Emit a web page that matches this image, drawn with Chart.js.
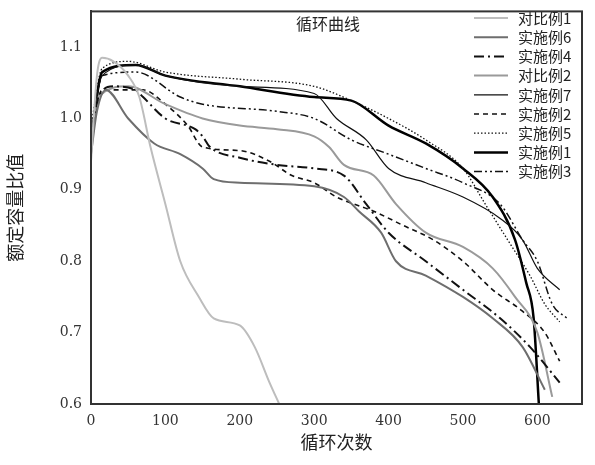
<!DOCTYPE html><html><head><meta charset="utf-8"><script src="https://cdn.jsdelivr.net/npm/chart.js@4"></script>
<style>body{margin:0;background:#fff}#w{width:595px;height:465px}</style></head><body><div id="w"><canvas id="c"></canvas></div><script>
const names=["对比例1","实施例6","实施例4","对比例2","实施例7","实施例2","实施例5","实施例1","实施例3"];
const d1=[[0,0.94],[8,1.06],[15,1.085],[30,1.08],[50,1.06],[65,1.03],[80,0.96],[100,0.88],[120,0.8],[145,0.75],[165,0.72],[200,0.71],[220,0.68],[240,0.63],[253,0.6]];
const d6=[[0,0.95],[8,1.01],[20,1.04],[50,1.0],[85,0.965],[120,0.95],[150,0.93],[165,0.915],[200,0.91],[300,0.905],[340,0.89],[360,0.87],[390,0.84],[410,0.8],[450,0.78],[500,0.75],[540,0.72],[580,0.68],[610,0.62]];
const d4=[[0,0.96],[10,1.03],[30,1.045],[60,1.04],[70,1.03],[100,1.0],[140,0.985],[150,0.975],[160,0.96],[200,0.945],[250,0.935],[300,0.93],[340,0.92],[370,0.88],[400,0.84],[450,0.8],[500,0.76],[550,0.72],[590,0.68],[630,0.63]];
const dc2=[[0,0.97],[10,1.03],[50,1.045],[100,1.02],[150,1.0],[200,0.99],[250,0.985],[300,0.975],[320,0.96],[340,0.935],[380,0.92],[410,0.88],[450,0.84],[500,0.82],[540,0.79],[570,0.75],[600,0.7],[620,0.61]];
const d7=[[0,0.98],[15,1.06],[60,1.075],[100,1.06],[200,1.045],[300,1.035],[330,1.0],[370,0.97],[400,0.93],[450,0.91],[500,0.89],[550,0.86],[580,0.83],[600,0.79],[630,0.76]];
const d2=[[0,0.97],[15,1.04],[70,1.04],[100,1.02],[130,0.99],[150,0.96],[200,0.955],[240,0.94],[270,0.92],[300,0.91],[330,0.89],[380,0.87],[420,0.85],[460,0.83],[500,0.8],[540,0.76],[580,0.73],[610,0.7],[630,0.66]];
const d5=[[0,0.99],[15,1.07],[50,1.08],[100,1.065],[200,1.055],[300,1.045],[350,1.025],[400,1.0],[450,0.97],[500,0.93],[530,0.88],[560,0.83],[590,0.78],[610,0.74],[630,0.715]];
const d1e=[[0,0.97],[15,1.065],[60,1.075],[100,1.06],[200,1.045],[300,1.03],[350,1.025],[400,0.99],[450,0.965],[500,0.93],[540,0.89],[570,0.83],[585,0.77],[595,0.72],[602,0.6]];
const d3=[[0,0.97],[15,1.06],[60,1.065],[120,1.03],[150,1.02],[250,1.01],[300,1.0],[350,0.97],[400,0.95],[450,0.93],[500,0.91],[550,0.88],[580,0.83],[600,0.8],[620,0.74],[640,0.72]];
const series=[d1,d6,d4,dc2,d7,d2,d5,d1e,d3];
const styles=[
 {c:'#bdbdbd',w:2,d:[]},{c:'#6e6e6e',w:2,d:[]},{c:'#111',w:2,d:[10,4,2,4]},{c:'#9a9a9a',w:2,d:[]},
 {c:'#111',w:1.2,d:[]},{c:'#111',w:1.6,d:[5,4]},{c:'#111',w:1.3,d:[1.5,2]},{c:'#000',w:2.5,d:[]},{c:'#111',w:1.5,d:[8,3,2,3,2,3]}];
const serif='"DejaVu Serif","Liberation Serif",serif';
const legendPlug={id:'lg',afterDraw(ch){const x=ch.ctx,a=ch.chartArea;x.save();
 x.font='16px "Noto Sans CJK SC"';x.textBaseline='middle';x.fillStyle='#222';
 x.fillText('循环曲线',a.left+205,24);
 x.font='15px "Noto Sans CJK SC"';
 names.forEach((n,i)=>{const y=18+i*19.2,s=styles[i];x.strokeStyle=s.c;x.lineWidth=s.w;x.setLineDash(s.d);
 x.beginPath();x.moveTo(474,y);x.lineTo(508,y);x.stroke();x.setLineDash([]);x.fillText(n,518,y)});
 x.restore();}};
new Chart(document.getElementById('c'),{type:'line',
 data:{datasets:series.map((s,i)=>({label:names[i],data:s.map(p=>({x:p[0],y:p[1]})),borderColor:styles[i].c,borderWidth:styles[i].w,borderDash:styles[i].d,pointRadius:0,cubicInterpolationMode:'monotone',fill:false}))},
 options:{responsive:true,maintainAspectRatio:false,animation:false,layout:{padding:{top:8,right:13,bottom:8}},
  plugins:{legend:{display:false},tooltip:{enabled:false}},
  scales:{x:{type:'linear',min:0,max:660,afterFit(s){s.height=53},
    ticks:{stepSize:100,color:'#333',font:{family:serif,size:14},callback:v=>v<=600?v:''},
    grid:{display:false,drawTicks:true,tickLength:6,tickColor:'#333'},border:{color:'#333',width:2},
    title:{display:true,text:'循环次数',font:{family:'"Noto Sans CJK SC"',size:18},color:'#222',padding:{top:0}}},
   y:{min:0.6,max:1.15,afterFit(s){s.width=91},afterBuildTicks(s){s.ticks=[0.6,0.7,0.8,0.9,1.0,1.1].map(v=>({value:v}))},
    ticks:{color:'#333',font:{family:serif,size:14},callback:v=>v.toFixed(1)},
    grid:{display:false,tickLength:6,tickColor:'#333'},border:{color:'#333',width:2},
    title:{display:true,text:'额定容量比值',font:{family:'"Noto Sans CJK SC"',size:18},color:'#222'}}}},
 plugins:[legendPlug,{id:'box',afterDraw(ch){const x=ch.ctx,a=ch.chartArea;x.save();x.strokeStyle='#333';x.lineWidth=2;x.strokeRect(a.left,a.top,a.right-a.left,a.bottom-a.top);x.restore();}}]});
</script></body></html>
